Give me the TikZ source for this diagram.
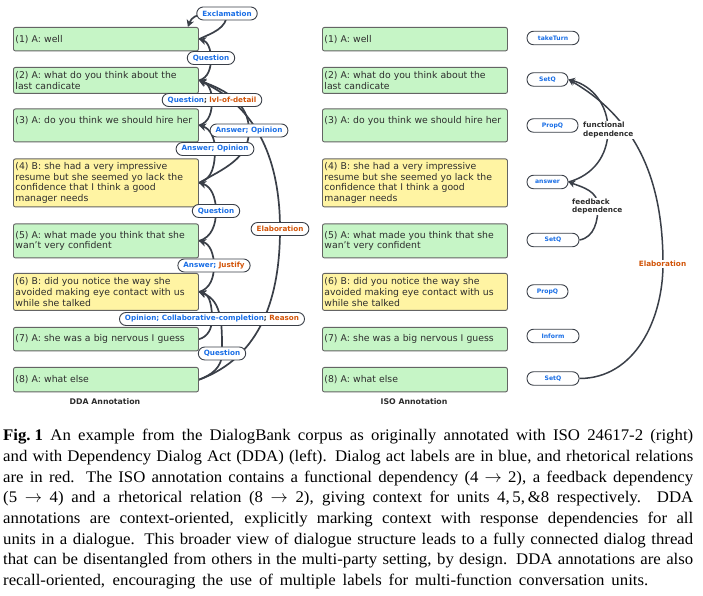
\documentclass[tikz,border=0pt]{standalone}
\usepackage{fontspec}
\setmainfont{Liberation Serif}
\newfontfamily\capfont[FakeStretch=1.035]{Liberation Serif}
\newfontfamily\dv{DejaVu Sans}
\usetikzlibrary{arrows.meta,backgrounds}
\definecolor{boxgreen}{RGB}{198,245,198}
\definecolor{boxyellow}{RGB}{255,244,163}
\definecolor{boxline}{RGB}{100,100,100}
\definecolor{txt}{RGB}{45,45,45}
\definecolor{lblue}{RGB}{25,110,230}
\definecolor{lorange}{RGB}{210,85,10}
\definecolor{arcc}{RGB}{58,63,72}
\tikzset{
  utt/.style={draw=boxline, line width=0.9pt, rounded corners=2pt, anchor=north west,
    text width=181pt, inner xsep=2pt, inner ysep=0pt, align=left,
    font=\dv\fontsize{9.3}{10.7}\selectfont, text=txt},
  green/.style={fill=boxgreen},
  yel/.style={fill=boxyellow},
  pill/.style={draw=arcc, line width=0.9pt, fill=white, rounded corners=6.5pt,
    minimum height=13pt, inner xsep=5.5pt, inner ysep=0pt,
    font=\dv\bfseries\fontsize{7.2}{8}\selectfont, text=lblue},
  isopill/.style={draw=arcc, line width=0.9pt, fill=white, rounded corners=6.5pt,
    minimum height=13.5pt, inner xsep=3pt, inner ysep=0pt,
    font=\dv\bfseries\fontsize{6.1}{7}\selectfont, text=lblue},
  isolab/.style={fill=white, inner sep=1pt, align=left, anchor=west,
    font=\dv\bfseries\fontsize{7.3}{8.3}\selectfont, text=txt},
  ttl/.style={font=\dv\bfseries\fontsize{7.8}{9}\selectfont, text=txt},
  ddaarc/.style={draw=arcc, line width=1.7pt, -{Stealth[length=7pt,width=7.5pt,inset=2pt]}},
  isoarc/.style={draw=arcc, line width=1.5pt, -{Stealth[length=6.5pt,width=7pt,inset=2pt]}},
}
\begin{document}
\begin{tikzpicture}[x=1pt,y=1pt]
\useasboundingbox (0,0) rectangle (703,596);
% ---------- DDA panel ----------
\node[utt,green,minimum height=23.5pt] (d1) at (13,569) {(1) A: well};
\node[utt,green,minimum height=26pt] (d2) at (13,529) {(2) A: what do you think about the\\last candicate};
\node[utt,green,minimum height=33pt] (d3) at (13,487.5) {(3) A: do you think we should hire her\\\mbox{}};
\node[utt,yel,minimum height=48pt] (d4) at (13,437.5) {(4) B: she had a very impressive\\resume but she seemed yo lack the\\confidence that I think a good\\manager needs};
\node[utt,green,minimum height=34pt] (d5) at (13,372.5) {(5) A: what made you think that she\\wan’t very confident};
\node[utt,yel,minimum height=37pt] (d6) at (13,323) {(6) B: did you notice the way she\\avoided making eye contact with us\\while she talked};
\node[utt,green,minimum height=23.5pt] (d7) at (13,269) {(7) A: she was a big nervous I guess};
\node[utt,green,minimum height=24.5pt] (d8) at (13,229) {(8) A: what else};
\node[ttl] (ddat) at (105,194) {DDA Annotation};

\node[pill] (excl) at (227,582.5) {Exclamation};
\node[pill] (q1) at (211,538) {Question};
\node[pill] (q2) at (212,496) {Question{\color{txt};} \textcolor{lorange}{lvl-of-detail}};
\node[pill] (ao1) at (249,465.5) {Answer; Opinion};
\node[pill] (ao2) at (215,447) {Answer; Opinion};
\node[pill] (q3) at (216,385) {Question};
\node[pill] (elab) at (280,367) {\textcolor{lorange}{Elaboration}};
\node[pill] (aj) at (214,330.5) {Answer; \textcolor{lorange}{Justify}};
\node[pill] (ocr) at (212,277) {Opinion; Collaborative-completion{\color{txt};} \textcolor{lorange}{Reason}};
\node[pill] (q4) at (222,242.5) {Question};
\coordinate (d1t) at ([xshift=-11pt]d1.north east);

% ---------- ISO panel ----------
\node[utt,green,minimum height=23.5pt] (s1) at (322,569) {(1) A: well};
\node[utt,green,minimum height=26pt] (s2) at (322,529) {(2) A: what do you think about the\\last candicate};
\node[utt,green,minimum height=33pt] (s3) at (322,487.5) {(3) A: do you think we should hire her\\\mbox{}};
\node[utt,yel,minimum height=48pt] (s4) at (322,437.5) {(4) B: she had a very impressive\\resume but she seemed yo lack the\\confidence that I think a good\\manager needs};
\node[utt,green,minimum height=34pt] (s5) at (322,372.5) {(5) A: what made you think that she\\wan’t very confident};
\node[utt,yel,minimum height=37pt] (s6) at (322,323) {(6) B: did you notice the way she\\avoided making eye contact with us\\while she talked};
\node[utt,green,minimum height=23.5pt] (s7) at (322,269) {(7) A: she was a big nervous I guess};
\node[utt,green,minimum height=24.5pt] (s8) at (322,229) {(8) A: what else};
\node[ttl] (isot) at (414,194) {ISO Annotation};

\node[isopill,minimum width=52pt] (i1) at (553,558) {takeTurn};
\node[isopill,minimum width=41pt] (i2) at (547.5,516.5) {SetQ};
\node[isopill,minimum width=51pt] (i3) at (552.5,470.5) {PropQ};
\node[isopill,minimum width=41pt] (i4) at (547.5,414) {answer};
\node[isopill,minimum width=52pt] (i5) at (553,356) {SetQ};
\node[isopill,minimum width=41pt] (i6) at (547.5,304.5) {PropQ};
\node[isopill,minimum width=52pt] (i7) at (553,260) {Inform};
\node[isopill,minimum width=52pt] (i8) at (553,217.5) {SetQ};

\node[isolab] (fdl) at (582,466) {functional\\dependence};
\node[isolab] (fbl) at (571,389.5) {feedback\\dependence};
\node[isolab,anchor=center,text=lorange] (isoel) at (662.5,332) {Elaboration};
\coordinate (fpt) at (608,466);
\coordinate (fbpt) at (598,390);
\coordinate (ept) at (663,332);

% ---------- connectors ----------
\begin{scope}[on background layer]
\fill[white] (0,0) rectangle (703,596);
\draw[ddaarc] (d1.east) to[out=25,in=-90] (excl.center) to[out=180,in=70] (d1t);
\draw[ddaarc] (d2.east) to[out=15,in=-90] (q1.center) to[out=90,in=-15] (d1.east);
\draw[ddaarc] (d3.east) to[out=15,in=-90] (q2.center) to[out=90,in=-15] (d2.east);
\draw[ddaarc] (d4.east) to[out=30,in=-90] (ao1.center) to[out=90,in=-20] (d2.east);
\draw[ddaarc] (d4.east) to[out=15,in=-90] (ao2.center) to[out=90,in=-15] (d3.east);
\draw[ddaarc] (d5.east) to[out=15,in=-90] (q3.center) to[out=90,in=-15] (d4.east);
\draw[ddaarc] (d6.east) to[out=15,in=-90] (aj.center) to[out=90,in=-15] (d5.east);
\draw[ddaarc] (d7.east) to[out=15,in=-90] (ocr.center) to[out=90,in=-15] (d6.east);
\draw[ddaarc] (d8.east) to[out=20,in=-90] (q4.center) to[out=90,in=-20] (d6.east);
\draw[ddaarc] (d8.east) to[out=20,in=-90] (elab.center) to[out=90,in=-25] (d2.east);

\draw[isoarc] (i4.east) to[out=15,in=-90] (fpt) to[out=90,in=-15] (i2.east);
\draw[isoarc] (i5.east) to[out=10,in=-90] (fbpt) to[out=90,in=-20] (i4.east);
\draw[isoarc] (i8.east) to[out=0,in=-90] (ept) to[out=90,in=-30] (i2.east);
\end{scope}

% ---------- caption ----------
\node[anchor=north west, inner sep=0pt, align=left, font=\capfont\fontsize{16.2}{20.7}\selectfont] (cap) at (3,167) {%
\makebox[690pt][s]{\textbf{Fig.\kern0.25em 1}\hspace{0.45em}An example from the DialogBank corpus as originally annotated with ISO 24617-2 (right)}\\
\makebox[690pt][s]{and with Dependency Dialog Act (DDA) (left). Dialog act labels are in blue, and rhetorical relations}\\
\makebox[690pt][s]{are in red. The ISO annotation contains a functional dependency (4 $\rightarrow$ 2), a feedback dependency}\\
\makebox[690pt][s]{(5 $\rightarrow$ 4) and a rhetorical relation (8 $\rightarrow$ 2), giving context for units 4,\,5,\,\&8 respectively. DDA}\\
\makebox[690pt][s]{annotations are context-oriented, explicitly marking context with response dependencies for all}\\
\makebox[690pt][s]{units in a dialogue. This broader view of dialogue structure leads to a fully connected dialog thread}\\
\makebox[690pt][s]{that can be disentangled from others in the multi-party setting, by design. DDA annotations are also}\\
\makebox[645pt][s]{recall-oriented, encouraging the use of multiple labels for multi-function conversation units.}};
\end{tikzpicture}
\end{document}
